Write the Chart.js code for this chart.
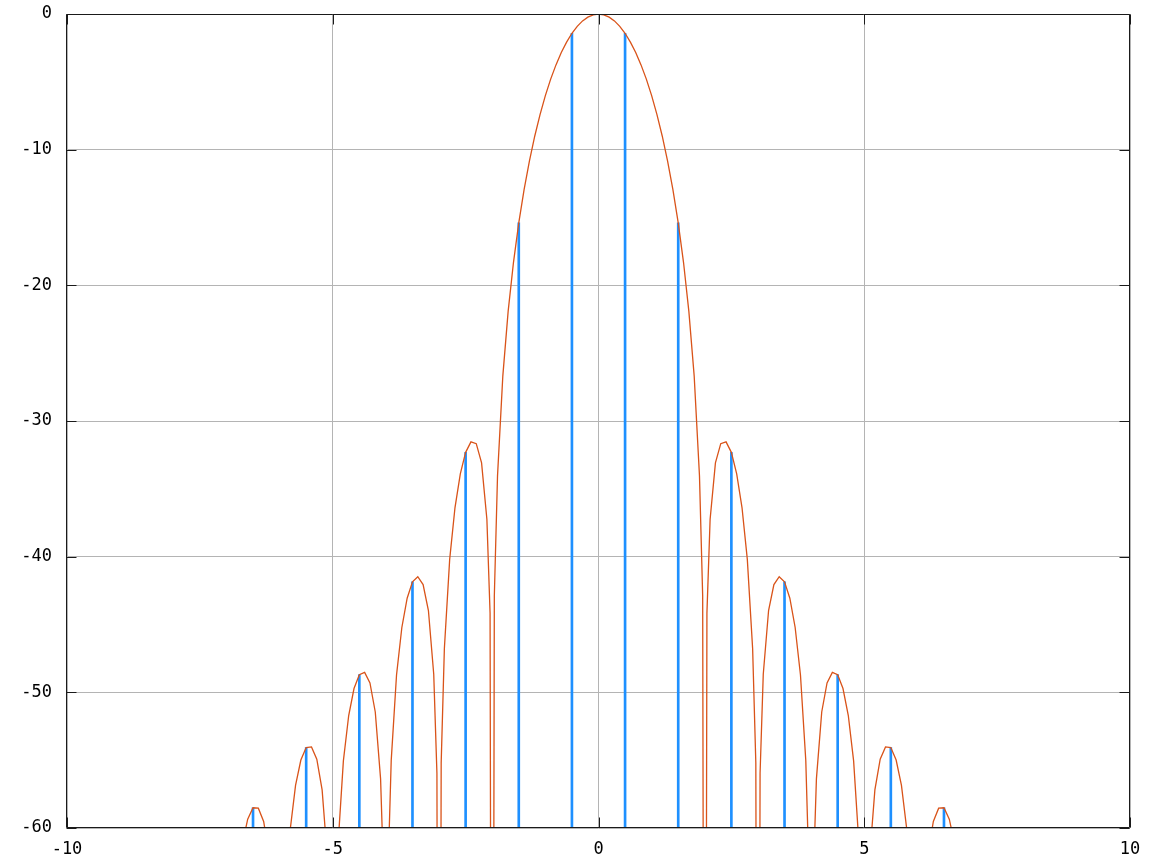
<!DOCTYPE html>
<html>
<head>
<meta charset="utf-8">
<script src="https://cdn.jsdelivr.net/npm/chart.js@4/dist/chart.umd.min.js"></script>
<style>
  html, body { margin: 0; padding: 0; background: #fff; }
  #spectrum { display: block; }
</style>
</head>
<body>
<canvas id="spectrum" width="1150" height="861"></canvas>
<script>
// spectrum curve (dB); nulls drop below the axis
const curveX = [
  -6.7, -6.6, -6.5, -6.4, -6.3, -6.2, -6.1, -6.0, -5.9, -5.8, -5.7, -5.6, -5.5, -5.4, -5.3, -5.2, -5.1, -5.0,
  -4.9, -4.8, -4.7, -4.6, -4.5, -4.4, -4.3, -4.2, -4.1, -4.04, -4.0, -3.96, -3.9, -3.8, -3.7, -3.6, -3.5, -3.4,
  -3.3, -3.2, -3.1, -3.04, -3.0, -2.96, -2.9, -2.8, -2.7, -2.6, -2.5, -2.4, -2.3, -2.2, -2.1, -2.04, -2.0, -1.96,
  -1.9, -1.8, -1.7, -1.6, -1.5, -1.4, -1.3, -1.2, -1.1, -1.0, -0.9, -0.8, -0.7, -0.6, -0.5, -0.4, -0.3, -0.2, -0.1,
  0,
  0.1, 0.2, 0.3, 0.4, 0.5, 0.6, 0.7, 0.8, 0.9, 1.0, 1.1, 1.2, 1.3, 1.4, 1.5, 1.6, 1.7, 1.8, 1.9,
  1.96, 2.0, 2.04, 2.1, 2.2, 2.3, 2.4, 2.5, 2.6, 2.7, 2.8, 2.9, 2.96, 3.0, 3.04, 3.1, 3.2, 3.3, 3.4, 3.5, 3.6, 3.7,
  3.8, 3.9, 3.96, 4.0, 4.04, 4.1, 4.2, 4.3, 4.4, 4.5, 4.6, 4.7, 4.8, 4.9, 5.0, 5.1, 5.2, 5.3, 5.4, 5.5, 5.6, 5.7,
  5.8, 5.9, 6.0, 6.1, 6.2, 6.3, 6.4, 6.5, 6.6, 6.7
];
const curveDb = [
  -61.15, -59.35, -58.51, -58.54, -59.52, -61.87, -67.03, -120, -66.14, -60.10, -56.86, -54.99, -54.07, -54.02, -54.93, -57.19, -62.26, -120,
  -61.19, -55.05, -51.71, -49.72, -48.70, -48.53, -49.31, -51.45, -56.38, -63.80, -120, -63.27, -55.02, -48.72, -45.22, -43.06, -41.85, -41.48,
  -42.06, -43.97, -48.67, -55.96, -120, -55.21, -46.79, -40.20, -36.38, -33.89, -32.31, -31.54, -31.67, -33.09, -37.24, -44.17, -120, -42.90,
  -34.05, -26.67, -21.92, -18.32, -15.40, -12.95, -10.84, -9.01, -7.42, -6.02, -4.80, -3.75, -2.84, -2.07, -1.42, -0.91, -0.51, -0.23, -0.06,
  0,
  -0.06, -0.23, -0.51, -0.91, -1.42, -2.07, -2.84, -3.75, -4.80, -6.02, -7.42, -9.01, -10.84, -12.95, -15.40, -18.32, -21.92, -26.67, -34.05,
  -42.90, -120, -44.17, -37.24, -33.09, -31.67, -31.54, -32.31, -33.89, -36.38, -40.20, -46.79, -55.21, -120, -55.96, -48.67, -43.97, -42.06, -41.48, -41.85, -43.06, -45.22,
  -48.72, -55.02, -63.27, -120, -63.80, -56.38, -51.45, -49.31, -48.53, -48.70, -49.72, -51.71, -55.05, -61.19, -120, -62.26, -57.19, -54.93, -54.02, -54.07, -54.99, -56.86,
  -60.10, -66.14, -120, -67.03, -61.87, -59.52, -58.54, -58.51, -59.35, -61.15
];

// sampled bins (stems)
const stemX = [-6.5, -5.5, -4.5, -3.5, -2.5, -1.5, -0.5, 0.5, 1.5, 2.5, 3.5, 4.5, 5.5, 6.5];
const stemDb = [-58.51, -54.07, -48.70, -41.85, -32.31, -15.40, -1.42, -1.42, -15.40, -32.31, -41.85, -48.70, -54.07, -58.51];

const yFloor = -60;
const tickFont = { family: "'DejaVu Sans Mono', monospace", size: 17 };

// box round the plot + small inward tick marks on all four sides
const frameTicks = {
  id: "frameTicks",
  afterDatasetsDraw(chart) {
    const { ctx, chartArea: a, scales } = chart;
    const L = Math.round(a.left) - 0.5, R = Math.round(a.right) - 0.5;
    const T = Math.round(a.top) + 0.5, B = Math.round(a.bottom) - 0.5;
    ctx.save();
    ctx.strokeStyle = "#1a1a1a";
    ctx.lineWidth = 1;
    ctx.beginPath();
    scales.x.ticks.forEach((t) => {
      const px = Math.round(scales.x.getPixelForValue(t.value)) + 0.5;
      ctx.moveTo(px, B); ctx.lineTo(px, B - 10);
      ctx.moveTo(px, T); ctx.lineTo(px, T + 10);
    });
    scales.y.ticks.forEach((t) => {
      const py = Math.round(scales.y.getPixelForValue(t.value)) + 0.5;
      ctx.moveTo(L, py); ctx.lineTo(L + 10, py);
      ctx.moveTo(R, py); ctx.lineTo(R - 10, py);
    });
    ctx.rect(L, T, R - L, B - T);
    ctx.stroke();
    ctx.restore();
  },
};

let ctx = document.getElementById("spectrum").getContext("2d");

let myChart = new Chart(ctx, {
  type: "scatter",
  data: {
    datasets: [
      {
        type: "line",
        data: curveX.map((x, i) => ({ x: x, y: curveDb[i] })),
        borderColor: "#d95319",
        borderWidth: 1.3,
        pointRadius: 0,
        tension: 0,
        fill: false,
        order: 1,
      },
      {
        type: "bar",
        data: stemX.map((x, i) => ({ x: x, y: [yFloor, stemDb[i]] })),
        backgroundColor: "#1e90ff",
        borderWidth: 0,
        barThickness: 2,
        order: 2,
      },
    ],
  },
  options: {
    responsive: false,
    animation: false,
    layout: { padding: { top: 14, right: 20, left: 0, bottom: 0 } },
    plugins: { legend: { display: false }, tooltip: { enabled: false } },
    scales: {
      x: {
        type: "linear",
        offset: false,
        min: -10,
        max: 10,
        grid: { color: "#b4b4b4", drawTicks: false, offset: false },
        border: { display: false },
        ticks: { stepSize: 5, padding: 11, color: "#000", font: tickFont, maxRotation: 0 },
        afterFit(s) { s.height = 33; s.paddingLeft = 0; s.paddingRight = 0; },
      },
      y: {
        type: "linear",
        min: yFloor,
        max: 0,
        grid: { color: "#b4b4b4", drawTicks: false },
        border: { display: false },
        ticks: { stepSize: 10, padding: 15, color: "#000", font: tickFont },
        afterFit(s) { s.width = 67; s.paddingTop = 0; s.paddingBottom = 0; },
      },
    },
  },
  plugins: [frameTicks],
});
</script>
</body>
</html>
